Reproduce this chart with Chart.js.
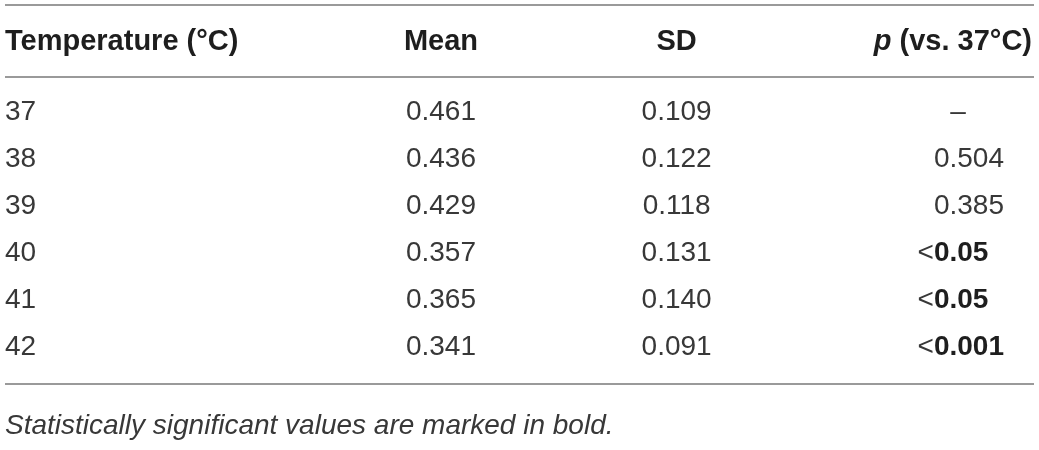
<!DOCTYPE html>
<html>
<head>
<meta charset="utf-8">
<script src="https://cdn.jsdelivr.net/npm/chart.js@4"></script>
<style>
  html, body { margin: 0; padding: 0; background: #fff; }
  #wrap { width: 1039px; height: 450px; position: relative; }
</style>
</head>
<body>
<div id="wrap"><canvas id="tbl"></canvas></div>
<script>
// table data
const temps = ['37', '38', '39', '40', '41', '42'];
const means = [0.461, 0.436, 0.429, 0.357, 0.365, 0.341];
const sds = [0.109, 0.122, 0.118, 0.131, 0.140, 0.091];
const pValues = ['–', '0.504', '0.385', '<0.05', '<0.05', '<0.001'];
const significant = [false, false, false, true, true, true];
const headers = ['Temperature (°C)', 'Mean', 'SD', 'p (vs. 37°C)'];
const footnote = 'Statistically significant values are marked in bold.';

// where each column sits on the x scale (0 = left rule, 1 = right rule)
const colAnchor = [0, 0.4245, 0.654, 0.9045];

const FONT = '"Liberation Sans", Arial, Helvetica, sans-serif';
const ruleColor = '#9a9a9a';
const headColor = '#1e1e1e';
const bodyColor = '#383838';

const tablePlugin = {
  id: 'tableText',
  afterDraw(chart) {
    const ctx = chart.ctx;
    const area = chart.chartArea;
    const x = chart.scales.x;
    ctx.save();

    // rules
    const rule = (yy) => {
      ctx.beginPath();
      ctx.moveTo(area.left, yy);
      ctx.lineTo(area.right + 2, yy);
      ctx.lineWidth = 2;
      ctx.strokeStyle = ruleColor;
      ctx.stroke();
    };
    rule(5);
    rule(area.top - 11);
    rule(area.bottom + 14);

    // header row
    const hy = 42;
    ctx.textBaseline = 'middle';
    ctx.fillStyle = headColor;
    ctx.font = 'bold 29px ' + FONT;
    ctx.textAlign = 'left';
    ctx.fillText(headers[0], x.getPixelForValue(colAnchor[0]), hy);
    ctx.textAlign = 'center';
    ctx.fillText(headers[1], x.getPixelForValue(colAnchor[1]), hy);
    ctx.fillText(headers[2], x.getPixelForValue(colAnchor[2]), hy);
    // p header, right aligned, with italic p
    const rest = headers[3].slice(1);
    ctx.textAlign = 'right';
    const right = x.getPixelForValue(1);
    ctx.fillText(rest, right, hy);
    const rw = ctx.measureText(rest).width;
    ctx.font = 'italic bold 29px ' + FONT;
    ctx.fillText(headers[3][0], right - rw, hy);

    // body rows, positioned by the scatter points
    chart.data.datasets.forEach((ds, ci) => {
      const meta = chart.getDatasetMeta(ci);
      meta.data.forEach((pt, ri) => {
        const px = pt.x, py = pt.y + 1;
        ctx.fillStyle = bodyColor;
        ctx.font = '28px ' + FONT;
        if (ci === 0) {
          ctx.textAlign = 'left';
          ctx.fillText(temps[ri], px, py);
        } else if (ci === 1) {
          ctx.textAlign = 'center';
          ctx.fillText(means[ri].toFixed(3), px, py);
        } else if (ci === 2) {
          ctx.textAlign = 'center';
          ctx.fillText(sds[ri].toFixed(3), px, py);
        } else {
          const v = pValues[ri];
          if (v === '–') {
            ctx.textAlign = 'center';
            ctx.fillText(v, px + 24, py);
          } else {
            let num = v;
            if (v[0] === '<') {
              num = v.slice(1);
              ctx.textAlign = 'right';
              ctx.fillText('<', px, py);
            }
            ctx.textAlign = 'left';
            if (significant[ri]) {
              ctx.font = 'bold 28px ' + FONT;
              ctx.fillStyle = headColor;
            }
            ctx.fillText(num, px, py);
          }
        }
      });
    });

    // footnote
    ctx.font = 'italic 28px ' + FONT;
    ctx.fillStyle = bodyColor;
    ctx.textAlign = 'left';
    ctx.fillText(footnote, area.left, area.bottom + 56);
    ctx.restore();
  }
};

const datasets = headers.map((h, ci) => ({
  label: h,
  data: temps.map((t) => ({ x: colAnchor[ci], y: t })),
  pointRadius: 0,
  pointHoverRadius: 0,
  showLine: false
}));

new Chart(document.getElementById('tbl'), {
  type: 'scatter',
  data: { labels: temps, datasets: datasets },
  options: {
    responsive: true,
    maintainAspectRatio: false,
    animation: false,
    events: [],
    layout: { padding: { top: 88, bottom: 80, left: 5, right: 7 } },
    plugins: { legend: { display: false }, tooltip: { enabled: false } },
    scales: {
      x: { type: 'linear', min: 0, max: 1, display: false },
      y: { type: 'category', labels: temps, offset: true, display: false }
    }
  },
  plugins: [tablePlugin]
});
</script>
</body>
</html>
